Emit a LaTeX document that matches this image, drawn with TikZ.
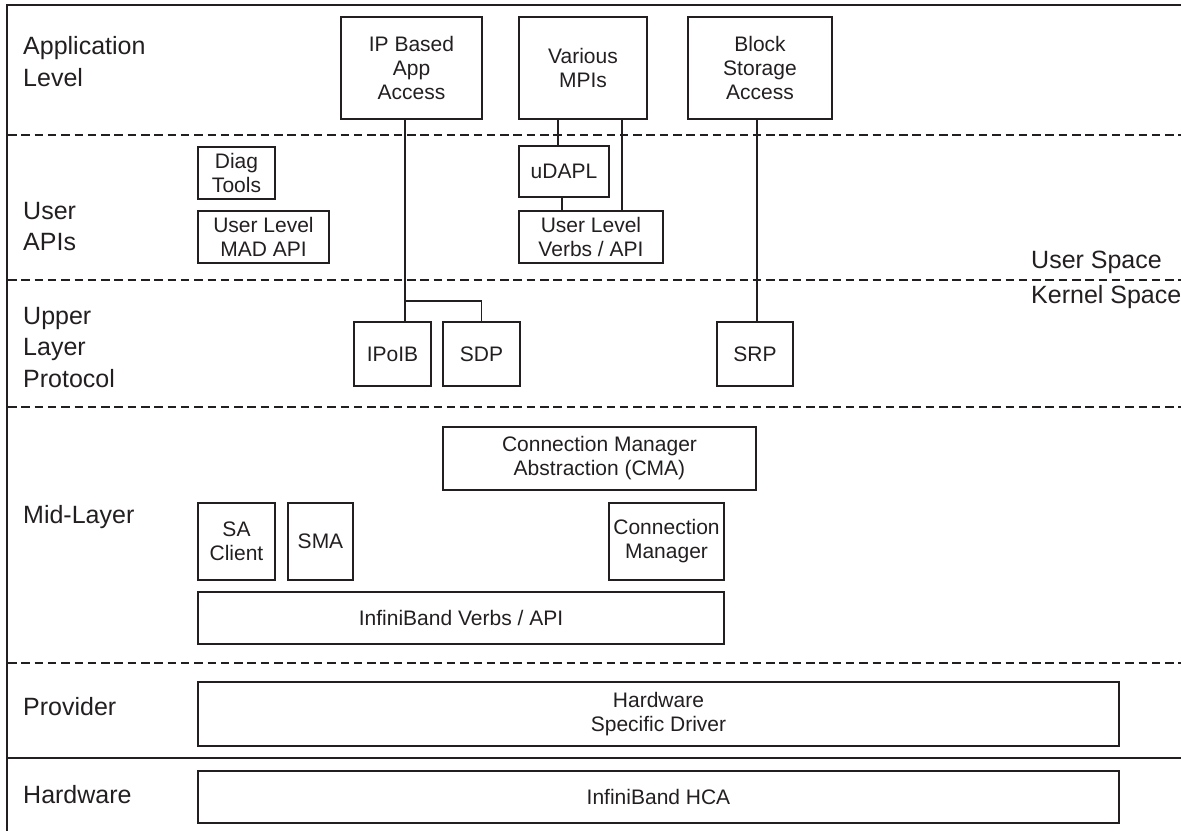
\documentclass[tikz,border=0pt]{standalone}
\usepackage{fontspec}
\setmainfont{Liberation Sans}
\definecolor{ink}{RGB}{35,31,32}
\begin{document}
\begin{tikzpicture}[x=1pt,y=-1pt,
  ink/.style={draw=ink},
  lbl/.style={anchor=west, align=left, inner sep=0pt, text=ink, font=\fontsize{25}{31.5}\selectfont},
  box/.style={draw=ink, line width=1.8pt, align=center, inner sep=0pt, text=ink, font=\fontsize{21}{24}\selectfont},
  sep/.style={draw=ink, line width=1.8pt, dash pattern=on 8.5pt off 4.8pt},
  frame/.style={draw=ink, line width=2pt},
  conn/.style={draw=ink, line width=1.7pt}]
\useasboundingbox (0,0) rectangle (1181,831);

% frame and separators
\draw[frame] (1181,4.5) -- (7,4.5) -- (7,831);
\draw[frame] (7,757.7) -- (1181,757.7);
\foreach \yy in {135,280,407,663} \draw[sep] (8,\yy) -- (1181,\yy);

% layer labels
\node[lbl] (lapp) at (23,61.4) {Application\\Level};
\node[lbl] (luser) at (23,226.6) {User\\APIs};
\node[lbl] (lulp) at (23,347.5) {Upper\\Layer\\Protocol};
\node[lbl] (lmid) at (23,517.5) {Mid-Layer};
\node[lbl] (lprov) at (23,707) {Provider};
\node[lbl] (lhw) at (23,795) {Hardware};
\node[lbl] (lus) at (1031,262.6) {User Space};
\node[lbl] (lks) at (1031,297.5) {Kernel Space};

% boxes
\node[box, minimum width=141pt, minimum height=102pt] (ip) at (411.5,68) {IP Based\\App\\Access};
\node[box, minimum width=128pt, minimum height=102pt] (mpi) at (583,68) {Various\\MPIs};
\node[box, minimum width=144pt, minimum height=102pt] (blk) at (760,68) {Block\\Storage\\Access};
\node[box, minimum width=77pt, minimum height=52pt] (diag) at (236.5,173) {Diag\\Tools};
\node[box, minimum width=131pt, minimum height=52pt] (mad) at (263.5,237) {User Level\\MAD API};
\node[box, minimum width=90pt, minimum height=51pt] (udapl) at (564,171.5) {uDAPL};
\node[box, minimum width=144pt, minimum height=52pt] (uverbs) at (591,237) {User Level\\Verbs / API};
\node[box, minimum width=77pt, minimum height=64pt] (ipoib) at (392.5,354) {IPoIB};
\node[box, minimum width=77pt, minimum height=64pt] (sdp) at (481.5,354) {SDP};
\node[box, minimum width=76pt, minimum height=64pt] (srp) at (755,354) {SRP};
\node[box, minimum width=313pt, minimum height=63pt] (cma) at (599.5,458.5) {Connection Manager\\Abstraction (CMA)};
\node[box, minimum width=77pt, minimum height=77pt] (sac) at (236.5,541.5) {SA\\Client};
\node[box, minimum width=65pt, minimum height=77pt] (sma) at (320.5,541.5) {SMA};
\node[box, minimum width=115pt, minimum height=77pt] (cm) at (666.5,541.5) {Connection\\Manager};
\node[box, minimum width=526pt, minimum height=52pt] (ibv) at (461,618) {InfiniBand Verbs / API};
\node[box, minimum width=921pt, minimum height=64pt] (hsd) at (658.5,714) {Hardware\\Specific Driver};
\node[box, minimum width=921pt, minimum height=52pt] (hca) at (658.5,797) {InfiniBand HCA};

% connectors
\coordinate (ipx) at (405,0);
\coordinate (br) at (405,301);
\coordinate (mlx) at (558,0);
\coordinate (ux) at (562,0);
\coordinate (mrx) at (622,0);
\coordinate (bx) at (757,0);
\draw[conn] (ip.south -| ipx) -- (ipoib.north -| ipx);
\draw[conn] (br) -| (sdp.north);
\draw[conn] (mpi.south -| mlx) -- (udapl.north -| mlx);
\draw[conn] (udapl.south -| ux) -- (uverbs.north -| ux);
\draw[conn] (mpi.south -| mrx) -- (uverbs.north -| mrx);
\draw[conn] (blk.south -| bx) -- (srp.north -| bx);
\end{tikzpicture}
\end{document}
